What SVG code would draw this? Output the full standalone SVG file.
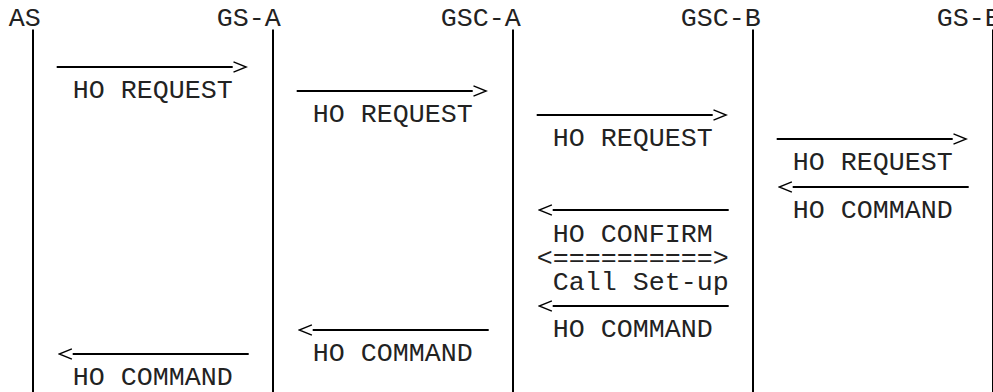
<svg xmlns="http://www.w3.org/2000/svg" width="993" height="392" viewBox="0 0 993 392">
<style>
text{font-family:"Liberation Mono","Courier New",monospace;font-size:26.67px;fill:#222;}
.life{stroke:#000;stroke-width:2;fill:none;}
.msg{stroke:#000;stroke-width:2;fill:none;marker-end:url(#ah);}
</style>
<defs>
<marker id="ah" markerUnits="userSpaceOnUse" markerWidth="16" markerHeight="14" viewBox="-1 -7 16 14" refX="0" refY="0" orient="auto">
<path d="M0.8,-5.2 L13.6,0 L0.8,5.2" fill="none" stroke="#000" stroke-width="1.4"/>
</marker>
</defs>
<rect width="993" height="392" fill="#fff"/>
<g id="node-AS"><text x="8.7" y="26.3">AS</text></g>
<g id="node-GS-A"><text x="216.7" y="26.3">GS-A</text></g>
<g id="node-GSC-A"><text x="440.7" y="26.3">GSC-A</text></g>
<g id="node-GSC-B"><text x="680.7" y="26.3">GSC-B</text></g>
<g id="node-GS-B"><text x="936.7" y="26.3">GS-B</text></g>
<g id="connectors">
<g id="lifelines">
<line class="life" x1="33" y1="29.5" x2="33" y2="392"/>
<line class="life" x1="273" y1="29.5" x2="273" y2="392"/>
<line class="life" x1="513" y1="29.5" x2="513" y2="392"/>
<line class="life" x1="753" y1="29.5" x2="753" y2="392"/>
<line class="life" x1="993" y1="29.5" x2="993" y2="392"/>
</g>
<g id="messages">
<line class="msg" x1="56.7" y1="67" x2="232.7" y2="67"/>
<line class="msg" x1="296.7" y1="91" x2="472.7" y2="91"/>
<line class="msg" x1="536.7" y1="115" x2="712.7" y2="115"/>
<line class="msg" x1="776.7" y1="139" x2="952.7" y2="139"/>
<line class="msg" x1="968.7" y1="187" x2="792.7" y2="187"/>
<line class="msg" x1="728.7" y1="210" x2="552.7" y2="210"/>
<line class="msg" x1="728.7" y1="306" x2="552.7" y2="306"/>
<line class="msg" x1="488.7" y1="330" x2="312.7" y2="330"/>
<line class="msg" x1="248.7" y1="354" x2="72.7" y2="354"/>
</g>
<g id="labels">
<text x="72.7" y="98.1">HO REQUEST</text>
<text x="312.7" y="122.0">HO REQUEST</text>
<text x="552.7" y="146.0">HO REQUEST</text>
<text x="792.7" y="169.9">HO REQUEST</text>
<text x="792.7" y="217.7">HO COMMAND</text>
<text x="552.7" y="241.7">HO CONFIRM</text>
<text x="536.7" y="265.6">&lt;==========&gt;</text>
<text x="552.7" y="289.5">Call Set-up</text>
<text x="552.7" y="337.4">HO COMMAND</text>
<text x="312.7" y="361.3">HO COMMAND</text>
<text x="72.7" y="385.3">HO COMMAND</text>
</g>
</g>
</svg>
